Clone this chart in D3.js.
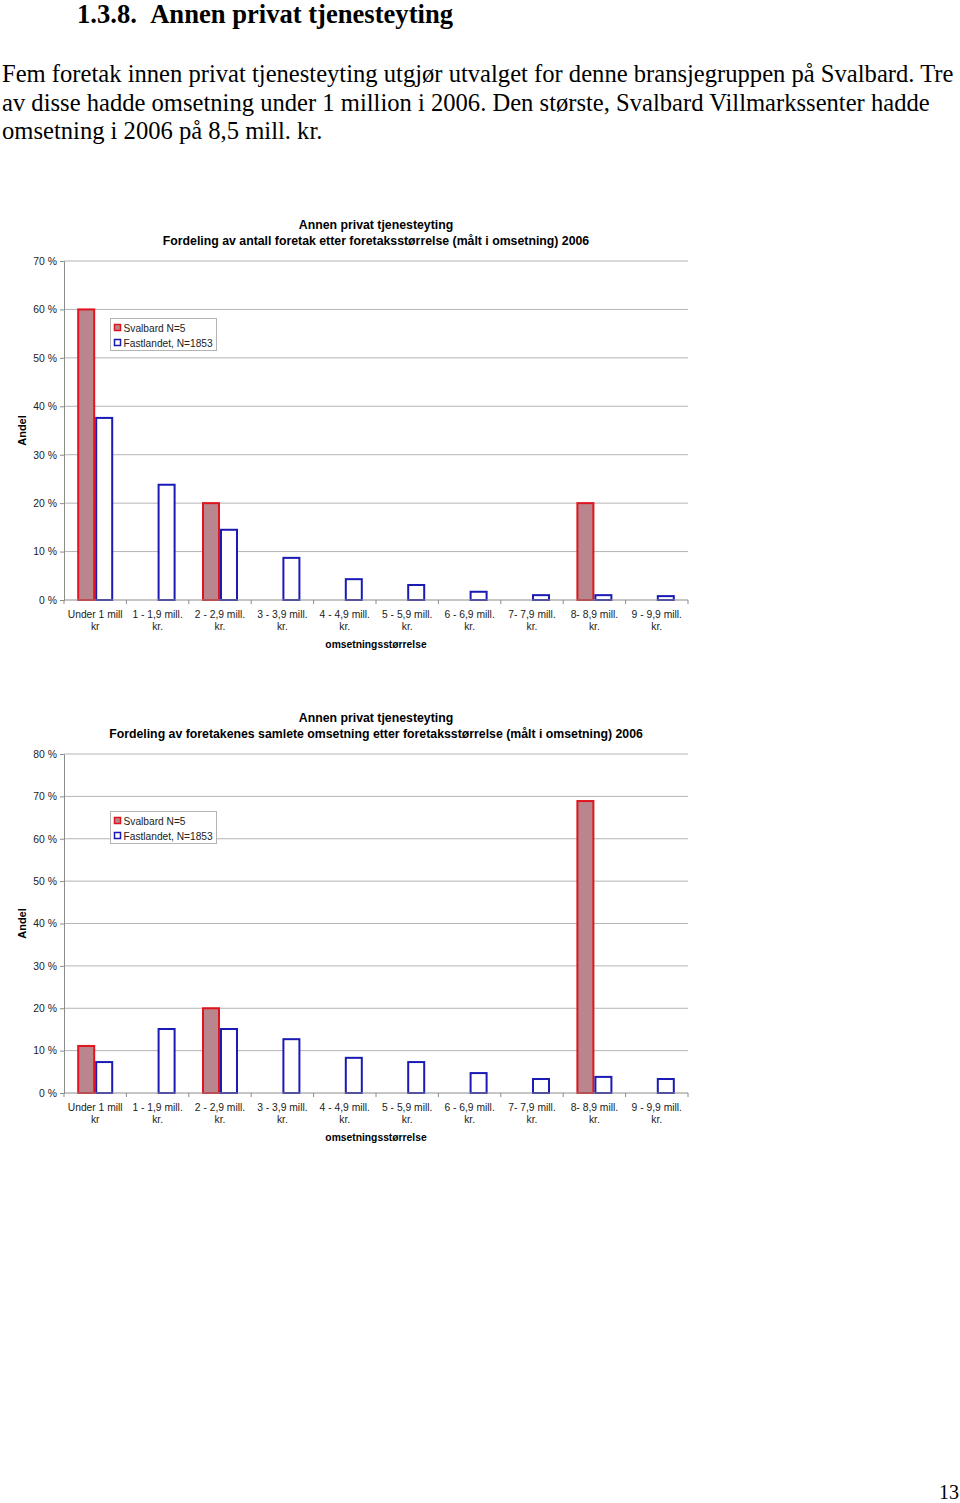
<!DOCTYPE html>
<html>
<head>
<meta charset="utf-8">
<script src="https://cdn.jsdelivr.net/npm/d3@7"></script>
<style>
  body { margin: 0; background: #fff; }
  svg { display: block; }
</style>
</head>
<body>
<script>
// data
const categories = [
  ["Under 1 mill", "kr"], ["1 - 1,9 mill.", "kr."], ["2 - 2,9 mill.", "kr."],
  ["3 - 3,9 mill.", "kr."], ["4 - 4,9 mill.", "kr."], ["5 - 5,9 mill.", "kr."],
  ["6 - 6,9 mill.", "kr."], ["7- 7,9 mill.", "kr."], ["8- 8,9 mill.", "kr."],
  ["9 - 9,9 mill.", "kr."]
];
const seriesNames = ["Svalbard N=5", "Fastlandet, N=1853"];

// chart 1: andel foretak
const antallSvalbard = [60, 0, 20, 0, 0, 0, 0, 0, 20, 0];
const antallFastland = [37.6, 23.8, 14.5, 8.7, 4.3, 3.1, 1.7, 1.0, 1.0, 0.8];
const antallTicks = [0, 10, 20, 30, 40, 50, 60, 70];

// chart 2: andel omsetning
const omsSvalbard = [11.1, 0, 20, 0, 0, 0, 0, 0, 68.9, 0];
const omsFastland = [7.3, 15.1, 15.1, 12.7, 8.3, 7.3, 4.7, 3.3, 3.8, 3.3];
const omsTicks = [0, 10, 20, 30, 40, 50, 60, 70, 80];

const width = 960, height = 1503;
const svg = d3.select("body").append("svg").attr("width", width).attr("height", height);

// page text
svg.append("text").attr("x", 77).attr("y", 22.5)
  .attr("font-family", "Liberation Serif").attr("font-weight", "bold").attr("font-size", 26.6)
  .text("1.3.8.\u00a0\u00a0Annen privat tjenesteyting");

const para = [
  "Fem foretak innen privat tjenesteyting utgjør utvalget for denne bransjegruppen på Svalbard. Tre",
  "av disse hadde omsetning under 1 million i 2006. Den største, Svalbard Villmarkssenter hadde",
  "omsetning i 2006 på 8,5 mill. kr."
];
svg.append("g").selectAll("text").data(para).join("text")
  .attr("x", 2).attr("y", (d, i) => 82 + i * 28.5)
  .attr("font-family", "Liberation Serif").attr("font-size", 24.6)
  .text(d => d);

svg.append("text").attr("x", 959).attr("y", 1499).attr("text-anchor", "end")
  .attr("font-family", "Liberation Serif").attr("font-size", 20).text("13");

const redFill = "#b8868c", redStroke = "#e0141e", blueStroke = "#1a1ab4";

function drawChart(cfg) {
  const left = 64, right = 688;
  const g = svg.append("g").attr("font-family", "Liberation Sans");

  const y = d3.scaleLinear().domain([0, d3.max(cfg.ticks)]).range([cfg.bottom, cfg.top]);
  const x = d3.scaleBand().domain(d3.range(categories.length)).range([left, right]);
  const xs = d3.scaleBand().domain([0, 1]).range([0, 36]);
  const off = (x.bandwidth() - 36) / 2;

  // titles
  g.append("text").attr("x", (left + right) / 2).attr("y", cfg.titleY)
    .attr("text-anchor", "middle").attr("font-weight", "bold").attr("font-size", 12.3)
    .text("Annen privat tjenesteyting");
  g.append("text").attr("x", (left + right) / 2).attr("y", cfg.titleY + 15.5)
    .attr("text-anchor", "middle").attr("font-weight", "bold").attr("font-size", 12.3)
    .text(cfg.subtitle);

  // grid
  g.append("g").selectAll("line").data(cfg.ticks.filter(t => t > 0)).join("line")
    .attr("x1", left).attr("x2", right).attr("y1", d => y(d)).attr("y2", d => y(d))
    .attr("stroke", "#b4b4b4").attr("stroke-width", 1);

  // y axis
  const ya = g.append("g").attr("transform", `translate(${left},0)`)
    .call(d3.axisLeft(y).tickValues(cfg.ticks).tickFormat(d => d + " %").tickSize(4).tickPadding(3));
  ya.select(".domain").attr("stroke", "#8c8c8c");
  ya.selectAll(".tick line").attr("stroke", "#8c8c8c");
  ya.selectAll(".tick text").attr("font-family", "Liberation Sans").attr("font-size", 10.4).attr("fill", "#222");

  g.append("text").attr("transform", `translate(26,${(cfg.top + cfg.bottom) / 2}) rotate(-90)`)
    .attr("text-anchor", "middle").attr("font-weight", "bold").attr("font-size", 11).text("Andel");

  // bars
  const series = [cfg.svalbard, cfg.fastland];
  series.forEach((vals, si) => {
    g.append("g").selectAll("rect").data(vals).join("rect")
      .attr("x", (d, i) => x(i) + off + xs(si) + 1)
      .attr("width", xs.bandwidth() - 2)
      .attr("y", d => y(d))
      .attr("height", d => y(0) - y(d))
      .attr("fill", si === 0 ? redFill : "#fff")
      .attr("stroke", si === 0 ? redStroke : blueStroke)
      .attr("stroke-width", 2)
      .attr("display", d => d > 0 ? null : "none");
  });

  // x axis
  g.append("line").attr("x1", left).attr("x2", right).attr("y1", y(0)).attr("y2", y(0))
    .attr("stroke", "#8c8c8c");
  g.append("g").selectAll("line").data(d3.range(categories.length + 1)).join("line")
    .attr("x1", i => left + i * x.step()).attr("x2", i => left + i * x.step())
    .attr("y1", y(0)).attr("y2", y(0) + 4).attr("stroke", "#8c8c8c");

  const lab = g.append("g").selectAll("text").data(categories).join("text")
    .attr("text-anchor", "middle").attr("font-size", 10.3).attr("fill", "#222");
  lab.selectAll("tspan").data((d, i) => d.map(t => ({ t, i }))).join("tspan")
    .attr("x", d => x(d.i) + x.bandwidth() / 2)
    .attr("y", (d, j) => y(0) + 18 + j * 12)
    .text(d => d.t);

  g.append("text").attr("x", (left + right) / 2).attr("y", y(0) + 48)
    .attr("text-anchor", "middle").attr("font-weight", "bold").attr("font-size", 10.3)
    .text("omsetningsstørrelse");

  // legend
  const lg = g.append("g").attr("transform", `translate(110.5,${cfg.legendY + 0.5})`);
  lg.append("rect").attr("width", 106).attr("height", 32)
    .attr("fill", "#fff").attr("stroke", "#b4b4b4");
  seriesNames.forEach((n, i) => {
    lg.append("rect").attr("x", 4).attr("y", 6 + i * 15).attr("width", 6).attr("height", 6)
      .attr("fill", i === 0 ? redFill : "#fff").attr("stroke", i === 0 ? redStroke : blueStroke)
      .attr("stroke-width", 1.5);
    lg.append("text").attr("x", 13).attr("y", 13.5 + i * 15).attr("font-size", 10.2).attr("fill", "#222")
      .text(n);
  });
}

drawChart({
  top: 261, bottom: 600, ticks: antallTicks, titleY: 229,
  subtitle: "Fordeling av antall foretak etter foretaksstørrelse (målt i omsetning) 2006",
  svalbard: antallSvalbard, fastland: antallFastland, legendY: 318
});

drawChart({
  top: 754, bottom: 1093, ticks: omsTicks, titleY: 722,
  subtitle: "Fordeling av foretakenes samlete omsetning etter foretaksstørrelse (målt i omsetning) 2006",
  svalbard: omsSvalbard, fastland: omsFastland, legendY: 811
});
</script>
</body>
</html>
